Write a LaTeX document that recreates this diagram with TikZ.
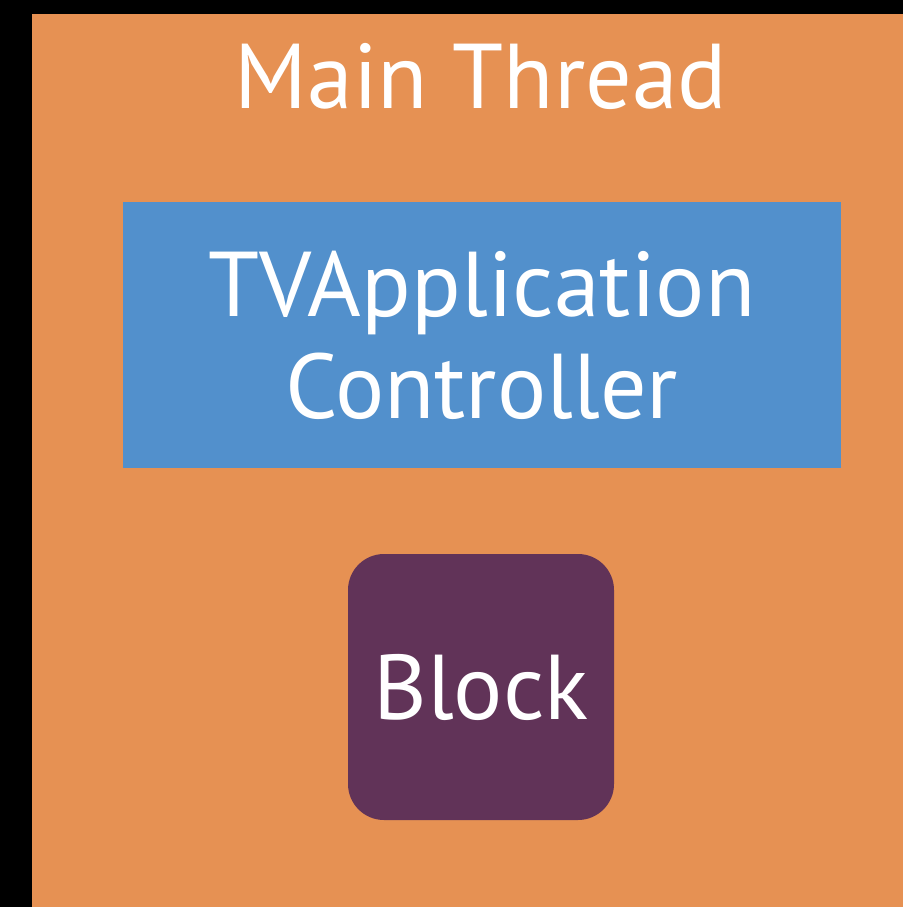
\documentclass[tikz,border=0pt]{standalone}
\usepackage{fontspec}
\setmainfont{PT Sans}
\usepackage{tikz}
\usetikzlibrary{positioning}
\definecolor{thread}{HTML}{E69153}
\definecolor{ctrl}{HTML}{5290CC}
\definecolor{blk}{HTML}{613358}
\begin{document}
\begin{tikzpicture}[
x=1pt, y=-1pt,
big/.style={text=white, font=\fontsize{92}{102}\selectfont, inner sep=0pt},
ctrlbox/.style={big, fill=ctrl, minimum width=718pt, minimum height=266pt, align=center},
blkbox/.style={big, fill=blk, rounded corners=36pt, minimum width=266pt, minimum height=266pt}
]
\fill[black] (0,0) rectangle (903,907);
\fill[thread] (32,14) rectangle (903,907);
\node[big, anchor=base] (title) at (481,108) {Main Thread};
\node[ctrlbox] (tvac) at (482,335) {TVApplication\\Controller};
\node[blkbox] (block) at (481,687) {Block};
\end{tikzpicture}
\end{document}
